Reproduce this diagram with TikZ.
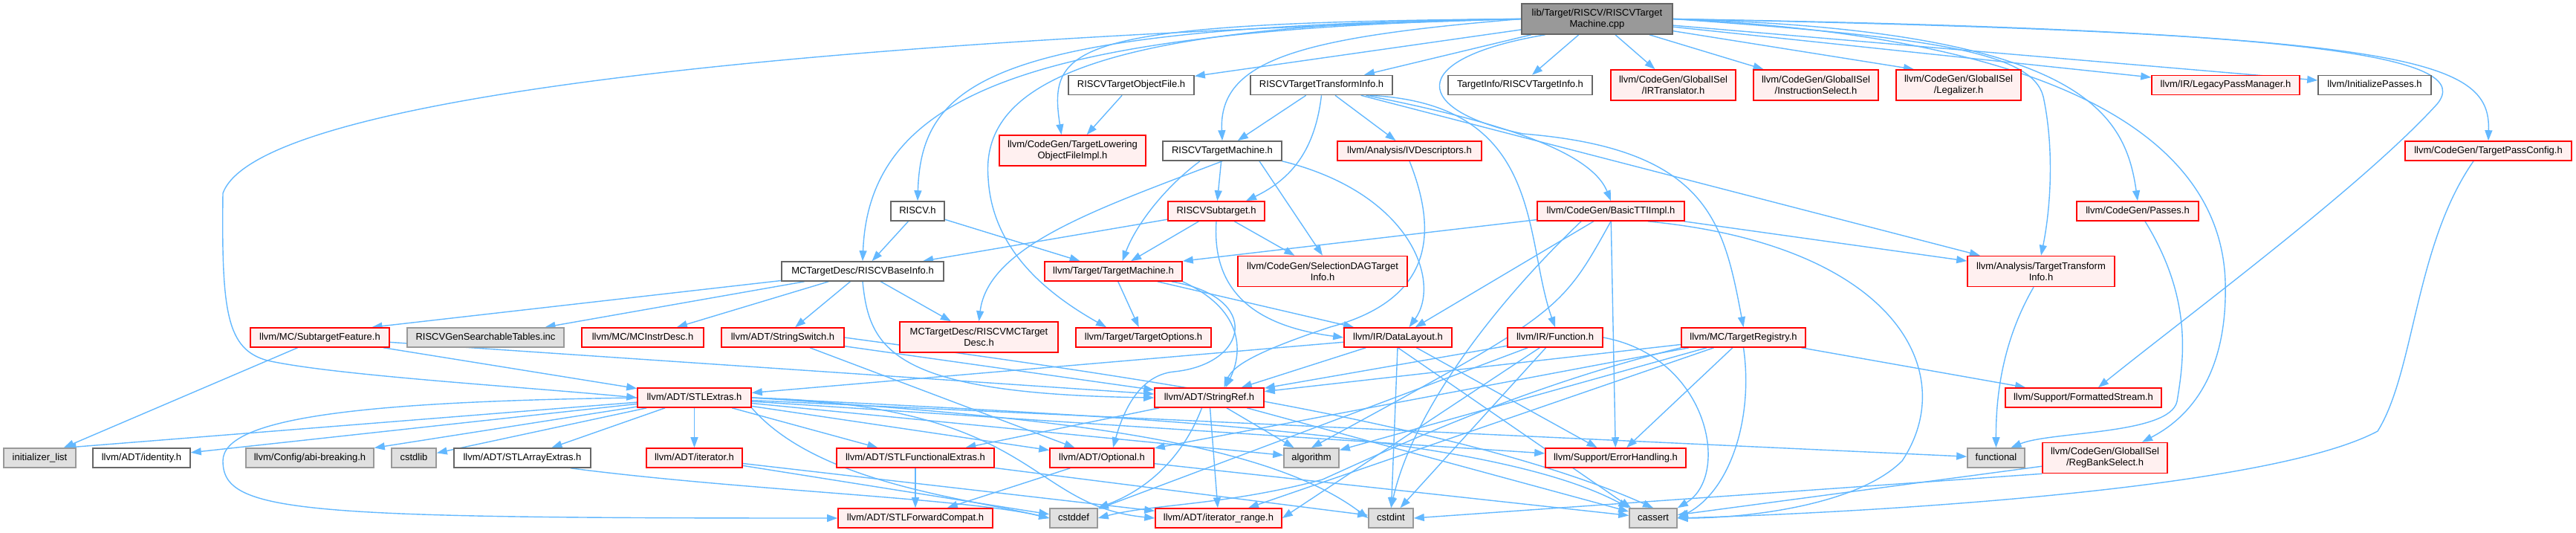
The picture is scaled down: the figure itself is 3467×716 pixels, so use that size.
\documentclass[tikz,border=0pt]{standalone}
\usepackage{fontspec}
\setmainfont{Liberation Sans}
\usetikzlibrary{arrows.meta,backgrounds}

\definecolor{edgeblue}{HTML}{63B8FF}
\definecolor{redfill}{HTML}{FFF0F0}
\definecolor{sysfill}{HTML}{E0E0E0}
\definecolor{sysline}{HTML}{999999}
\definecolor{plainline}{HTML}{666666}
\definecolor{mainfill}{HTML}{999999}

\tikzset{
    incl graph/.style = {x=1pt, y=-1pt, >={Triangle[length=14pt, width=10pt]}},
    dep/.style        = {->, draw=edgeblue, line width=1.4pt},
    hdr/.style        = {draw, line width=1.6pt, inner sep=0pt,
                         minimum height=26pt, text height=9.5pt, text depth=3pt,
                         font=\fontsize{13}{15}\selectfont, align=center},
    twoline/.style    = {minimum height=41pt, text height={}, text depth={}},
    mainhdr/.style    = {hdr, draw=plainline, fill=mainfill},
    plainhdr/.style   = {hdr, draw=plainline, fill=white},
    redhdr/.style     = {hdr, draw=red, fill=redfill},
    syshdr/.style     = {hdr, draw=sysline, fill=sysfill}
}

\begin{document}
\begin{tikzpicture}[incl graph]
\useasboundingbox (0,0) rectangle (3467,716);

% The file itself
\node[mainhdr, twoline, minimum width=203pt] (main) at (2149.5,25.5)
    {lib/Target/RISCV/RISCVTarget\\Machine.cpp};

% Row 1
\node[plainhdr, minimum width=169pt] (tobj) at (1522.5,114.5) {RISCVTargetObjectFile.h};
\node[plainhdr, minimum width=191pt] (ttih) at (1778.5,114.5) {RISCVTargetTransformInfo.h};
\node[plainhdr, minimum width=194pt] (tinfo) at (2046,114.5) {TargetInfo/RISCVTargetInfo.h};
\node[redhdr, twoline, minimum width=168pt] (irtr) at (2252,114.5)
    {llvm/CodeGen/GlobalISel\\/IRTranslator.h};
\node[redhdr, twoline, minimum width=168pt] (isel) at (2444,114.5)
    {llvm/CodeGen/GlobalISel\\/InstructionSelect.h};
\node[redhdr, twoline, minimum width=168pt] (legal) at (2636,114.5)
    {llvm/CodeGen/GlobalISel\\/Legalizer.h};
\node[redhdr, minimum width=199pt] (lpm) at (2995.5,114.5) {llvm/IR/LegacyPassManager.h};
\node[plainhdr, minimum width=152pt] (initp) at (3196,114.5) {llvm/InitializePasses.h};

% Row 2
\node[redhdr, twoline, minimum width=197pt] (tlof) at (1443.5,202.5)
    {llvm/CodeGen/TargetLowering\\ObjectFileImpl.h};
\node[plainhdr, minimum width=160pt] (rtm) at (1645,203) {RISCVTargetMachine.h};
\node[redhdr, minimum width=194pt] (ivd) at (1897,203) {llvm/Analysis/IVDescriptors.h};
\node[redhdr, minimum width=224pt] (tpc) at (3349,203) {llvm/CodeGen/TargetPassConfig.h};

% Row 3
\node[plainhdr, minimum width=72pt] (riscvh) at (1235,284) {RISCV.h};
\node[redhdr, minimum width=130pt] (rsub) at (1637,284) {RISCVSubtarget.h};
\node[redhdr, minimum width=198pt] (btti) at (2168,284) {llvm/CodeGen/BasicTTIImpl.h};
\node[redhdr, minimum width=164pt] (passes) at (2877,284) {llvm/CodeGen/Passes.h};

% Row 4
\node[plainhdr, minimum width=218pt] (binfo) at (1161,365) {MCTargetDesc/RISCVBaseInfo.h};
\node[redhdr, minimum width=185pt] (tm) at (1498.5,365) {llvm/Target/TargetMachine.h};
\node[redhdr, twoline, minimum width=228pt] (sdag) at (1780,365)
    {llvm/CodeGen/SelectionDAGTarget\\Info.h};
\node[redhdr, twoline, minimum width=198pt] (ttia) at (2747,365)
    {llvm/Analysis/TargetTransform\\Info.h};

% Row 5
\node[redhdr, minimum width=187pt] (stf) at (430.5,454) {llvm/MC/SubtargetFeature.h};
\node[syshdr, minimum width=211pt] (gst) at (653.5,454) {RISCVGenSearchableTables.inc};
\node[redhdr, minimum width=164pt] (mcid) at (865,454) {llvm/MC/MCInstrDesc.h};
\node[redhdr, minimum width=165pt] (ssw) at (1053.5,454) {llvm/ADT/StringSwitch.h};
\node[redhdr, twoline, minimum width=213pt] (mctd) at (1317.5,453.5)
    {MCTargetDesc/RISCVMCTarget\\Desc.h};
\node[redhdr, minimum width=182pt] (topt) at (1539,454) {llvm/Target/TargetOptions.h};
\node[redhdr, minimum width=145pt] (dl) at (1881.5,454) {llvm/IR/DataLayout.h};
\node[redhdr, minimum width=128pt] (func) at (2093,454) {llvm/IR/Function.h};
\node[redhdr, minimum width=167pt] (treg) at (2346.5,454) {llvm/MC/TargetRegistry.h};

% Row 6
\node[redhdr, minimum width=153pt] (stlx) at (934.5,535) {llvm/ADT/STLExtras.h};
\node[redhdr, minimum width=147pt] (sref) at (1627.5,535) {llvm/ADT/StringRef.h};
\node[redhdr, minimum width=210pt] (fstr) at (2804,535) {llvm/Support/FormattedStream.h};

% Row 7
\node[syshdr, minimum width=97pt] (initl) at (53.5,616) {initializer\_list};
\node[plainhdr, minimum width=131pt] (ident) at (190.5,616) {llvm/ADT/identity.h};
\node[syshdr, minimum width=172pt] (abi) at (417,616) {llvm/Config/abi-breaking.h};
\node[syshdr, minimum width=60pt] (cstdlib) at (557,616) {cstdlib};
\node[plainhdr, minimum width=184pt] (stlarr) at (703,616) {llvm/ADT/STLArrayExtras.h};
\node[redhdr, minimum width=129pt] (iter) at (934.5,616) {llvm/ADT/iterator.h};
\node[redhdr, minimum width=212pt] (stlfe) at (1232,616) {llvm/ADT/STLFunctionalExtras.h};
\node[redhdr, minimum width=140pt] (opt) at (1483,616) {llvm/ADT/Optional.h};
\node[syshdr, minimum width=74pt] (algo) at (1765,616) {algorithm};
\node[redhdr, minimum width=189pt] (errh) at (2174.5,616) {llvm/Support/ErrorHandling.h};
\node[syshdr, minimum width=77pt] (functional) at (2686.5,616) {functional};
\node[redhdr, twoline, minimum width=168pt] (rbs) at (2833,616)
    {llvm/CodeGen/GlobalISel\\/RegBankSelect.h};

% Row 8
\node[redhdr, minimum width=208pt] (stlfc) at (1232,697) {llvm/ADT/STLForwardCompat.h};
\node[syshdr, minimum width=64pt] (cstddef) at (1445,697) {cstddef};
\node[redhdr, minimum width=170pt] (iterr) at (1640,697) {llvm/ADT/iterator\_range.h};
\node[syshdr, minimum width=60pt] (cstdint) at (1872,697) {cstdint};
\node[syshdr, minimum width=64pt] (cassert) at (2225,697) {cassert};

\begin{scope}[on background layer]
% Includes of the file itself
\foreach \t in {tobj, ttih, tinfo, irtr, isel, lpm, initp}
    \draw[dep] (main) -- (\t);
\draw[dep] (main) -- ([xshift=-60pt]legal.north);
\draw[dep] (main.west) .. controls (1750,50) and (1640,80) .. (rtm.north);
\draw[dep] (main.west) .. controls (1440,30) and (1410,60) .. ([xshift=-15pt]tlof.north);
\draw[dep] (main.west) .. controls (1450,30) and (1320,120) .. (1330,240)
                       .. controls (1335,330) and (1400,390) .. ([xshift=-50pt]topt.north);
\draw[dep] (main.west) .. controls (1350,35) and (1240,100) .. (riscvh.north);
\draw[dep] (main.west) .. controls (1400,40) and (1170,120) .. (binfo.north);
\draw[dep] (main.west) .. controls (1200,50) and (350,120) .. (300,260)
                       .. controls (298,420) and (305,470) .. (360,485)
                       .. controls (450,505) and (700,520) .. (stlx.west);
\draw[dep] ([xshift=-70pt]main.south) .. controls (1885,80) and (1905,150) .. (2050,180)
                                      .. controls (2300,200) and (2320,300) .. (treg.north);
\draw[dep] (main.east) .. controls (2600,50) and (2735,70) .. (2750,130)
                       .. controls (2765,200) and (2760,280) .. (ttia.north);
\draw[dep] (main.east) .. controls (2800,40) and (2860,150) .. (passes.north);
\draw[dep] (main.east) .. controls (2800,50) and (2990,200) .. (2995,380)
                       .. controls (2998,500) and (2950,560) .. ([xshift=50pt]rbs.north);
\draw[dep] (main.east) .. controls (3150,40) and (3330,80) .. (3280,140)
                       .. controls (3180,250) and (2950,420) .. ([xshift=20pt]fstr.north);
\draw[dep] (main.east) .. controls (3250,45) and (3352,80) .. (tpc.north);

% Target headers
\draw[dep] (tobj) -- (tlof);
\foreach \t in {rtm, ivd, ttia}
    \draw[dep] (ttih) -- (\t);
\draw[dep] (ttih.south) .. controls (1770,200) and (1740,240) .. ([xshift=40pt]rsub.north);
\draw[dep] ([xshift=60pt]ttih.south) .. controls (2000,160) and (2140,200) .. (btti.north);
\draw[dep] ([xshift=65pt]ttih.south) .. controls (2080,140) and (2050,320) .. (func.north);

\draw[dep] (rtm) -- (rsub);
\draw[dep] (rtm.south) .. controls (1480,280) and (1330,330) .. (mctd.north);
\draw[dep] ([xshift=-30pt]rtm.south) .. controls (1570,250) and (1530,300) .. ([xshift=12pt]tm.north);
\draw[dep] ([xshift=50pt]rtm.south) -- (sdag.north);
\draw[dep] (rtm.south east) .. controls (1900,260) and (1940,380) .. ([xshift=15pt]dl.north);

\foreach \t in {binfo, tm}
    \draw[dep] (riscvh) -- (\t);
\foreach \t in {binfo, tm, sdag}
    \draw[dep] (rsub) -- (\t);
\draw[dep] (rsub.south) .. controls (1630,400) and (1700,440) .. (dl.west);

\draw[dep] (btti) -- (tm.north east);
\foreach \t in {dl, errh, ttia}
    \draw[dep] (btti) -- (\t);
\draw[dep] (btti.south) .. controls (2100,420) .. (algo.north);
\draw[dep] ([xshift=-40pt]btti.south) .. controls (2000,420) and (1900,560) .. (cstdint.north);
\draw[dep] ([xshift=50pt]btti.south) .. controls (2550,330) and (2640,500) .. (2560,620)
                                     .. controls (2500,680) and (2350,697) .. (cassert.east);

\draw[dep] (binfo) -- ([xshift=70pt]stf.north);
\draw[dep] (binfo) -- ([xshift=80pt]gst.north);
\foreach \t in {mcid, ssw, mctd}
    \draw[dep] (binfo) -- (\t);
\draw[dep] (binfo.south) .. controls (1170,470) and (1200,530) .. (sref.west);

\draw[dep] (tm) -- (topt);
\draw[dep] (tm) -- (dl);
\draw[dep] (tm.south east) .. controls (1680,420) and (1670,480) .. ([xshift=22pt]sref.north);
\draw[dep] ([xshift=-15pt]tm.south east) .. controls (1700,400) and (1680,490) .. (1580,500)
                                         .. controls (1530,505) and (1510,560) .. ([xshift=15pt]opt.north);

\draw[dep] (ivd.south) .. controls (1930,300) and (1940,400) .. (1790,440)
                       .. controls (1700,470) and (1660,490) .. ([xshift=20pt]sref.north);

% llvm headers
\draw[dep] ([xshift=-30pt]stf.south) -- (initl);
\foreach \t in {stlx, sref}
    \draw[dep] (stf) -- (\t);

\foreach \t in {sref, opt}
    \draw[dep] (ssw) -- (\t);
\draw[dep] (ssw.east) .. controls (1400,490) and (1950,560) .. (cassert.north);

\foreach \t in {stlx, sref, errh, cstdint}
    \draw[dep] (dl) -- (\t);
\draw[dep] (dl.south) -- ([xshift=-30pt]cassert.north);

\foreach \t in {sref, cstddef, cstdint}
    \draw[dep] (func) -- (\t);
\draw[dep] (func) -- (iterr.east);
\draw[dep] (func.east) .. controls (2300,480) and (2330,640) .. (cassert.north east);

\foreach \t in {sref, opt, algo, errh, iterr, fstr}
    \draw[dep] (treg) -- (\t);
\draw[dep] (treg.south west) .. controls (2050,520) and (1880,600) .. (1780,645)
                             .. controls (1650,680) and (1550,678) .. (cstddef.east);
\draw[dep] (treg.south) .. controls (2360,560) and (2330,660) .. (cassert.east);

\draw[dep] (stlx) -- ([xshift=35pt]initl.north);
\foreach \t in {ident, abi, cstdlib, stlarr, iter, stlfe, opt, algo, errh, functional}
    \draw[dep] (stlx) -- (\t);
\draw[dep] (stlx.east) .. controls (1500,560) and (2000,580) .. (cassert.north west);
\draw[dep] (stlx.south east) .. controls (1100,650) and (1300,670) .. (cstddef.west);
\draw[dep] (stlx.east) .. controls (1400,560) and (1700,590) .. (cstdint.west);
\draw[dep] (stlx.east) .. controls (1400,545) and (1380,680) .. (iterr.west);
\draw[dep] (stlx.west) .. controls (500,540) and (300,560) .. (300,620)
                       .. controls (300,690) and (400,697) .. (stlfc.west);

\draw[dep] ([xshift=65pt]stlarr.south) .. controls (1000,660) and (1300,670) .. (cstddef.west);
\foreach \t in {iterr, cstddef}
    \draw[dep] (iter) -- (\t);
\foreach \t in {stlfc, cstdint}
    \draw[dep] (stlfe) -- (\t);
\foreach \t in {stlfc, cassert}
    \draw[dep] (opt) -- (\t);

\foreach \t in {stlfe, iterr, algo, cassert}
    \draw[dep] (sref) -- (\t);
\draw[dep] ([xshift=-10pt]sref.south) .. controls (1590,620) and (1540,660) .. (cstddef.north east);

\draw[dep] ([xshift=-10pt]ttia.south) .. controls (2700,450) and (2686,520) .. (functional.north);
\draw[dep] ([xshift=10pt]passes.south) .. controls (2950,400) and (2940,480) .. (2930,540)
                                       .. controls (2920,585) and (2760,580) .. ([xshift=20pt]functional.north);
\draw[dep] (rbs) -- (cassert);
\draw[dep] (rbs.south west) -- (cstdint.east);
\draw[dep] ([xshift=-20pt]tpc.south) .. controls (3250,330) and (3250,500) .. (3200,580)
                                     .. controls (3050,660) and (2500,690) .. (cassert.east);
\end{scope}

\end{tikzpicture}
\end{document}
